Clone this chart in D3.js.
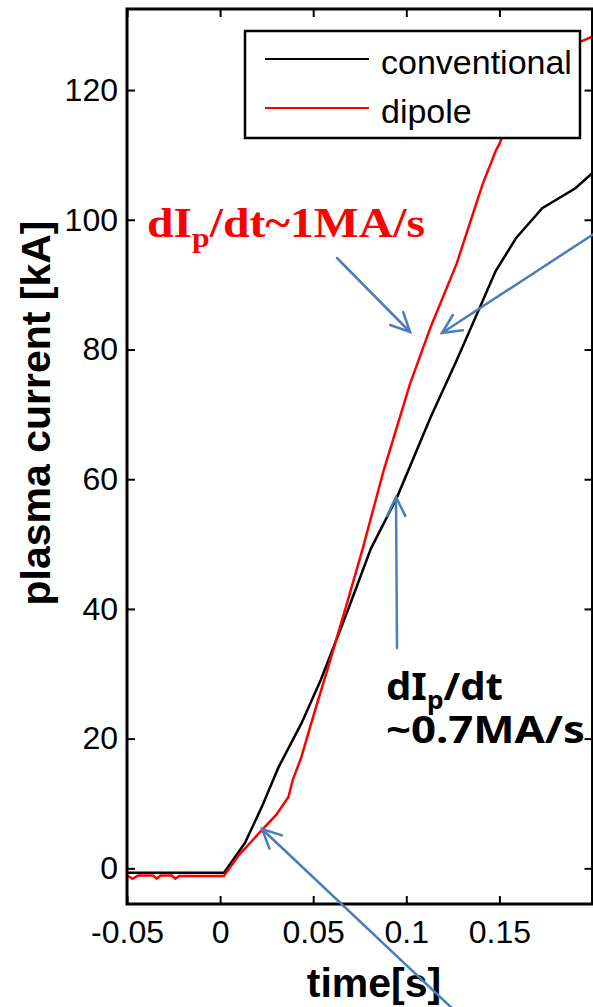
<!DOCTYPE html>
<html>
<head>
<meta charset="utf-8">
<script src="https://cdn.jsdelivr.net/npm/d3@7"></script>
<style>
  html, body { margin: 0; padding: 0; background: #fff; }
  svg { display: block; }
</style>
</head>
<body>
<div id="chart"></div>
<script>
// conventional start-up (black)
const tConv = [-0.05, -0.03, -0.01, 0.002, 0.0133, 0.0223, 0.0314, 0.0436, 0.054, 0.0686,
  0.081, 0.095, 0.113, 0.127, 0.138, 0.148, 0.159, 0.173, 0.191, 0.1995];
const ipConv = [-0.7, -0.7, -0.7, -0.7, 3.9, 9.4, 15.6, 22.3, 29, 39.8,
  49.3, 57.2, 69.5, 78.3, 85.5, 92.1, 97.2, 101.8, 104.9, 107.1];

// dipole start-up (red)
const tDip = [-0.05, -0.047, -0.044, -0.036, -0.034, -0.032, -0.026, -0.024, -0.022, 0.002,
  0.010, 0.0234, 0.030, 0.0367, 0.039, 0.0436, 0.0505, 0.058, 0.0686, 0.0766, 0.0878,
  0.102, 0.113, 0.127, 0.141, 0.148, 0.15, 0.155, 0.16, 0.165, 0.17,
  0.175, 0.18, 0.187, 0.194, 0.1995];
const ipDip = [-1.1, -1.6, -1.1, -1.1, -1.6, -1.1, -1.1, -1.6, -1.2, -1.2,
  2.0, 6.2, 8.2, 11, 13.6, 17.1, 23.9, 31, 41.3, 49.3, 61.3,
  74.7, 83.4, 93.2, 105.5, 110.6, 111.7, 115.3, 118.5, 121.2, 123.3,
  124.9, 126, 126.9, 127.5, 128.2];

const xTicks = [-0.05, 0, 0.05, 0.1, 0.15];
const xTickLabels = ["-0.05", "0", "0.05", "0.1", "0.15"];
const yTicks = [0, 20, 40, 60, 80, 100, 120];

const seriesNames = ["conventional", "dipole"];
const seriesColors = ["#000000", "#ff0000"];

const W = 593, H = 1007;
const svg = d3.select("#chart").append("svg")
  .attr("width", W)
  .attr("height", H);

svg.append("rect").attr("width", W).attr("height", H).attr("fill", "#fff");

const plotL = 127, plotR = 592.5, plotT = 9, plotB = 904;

const x = d3.scaleLinear().domain([-0.05, 0.2]).range([plotL, plotR]);
const y = d3.scaleLinear().domain([-5.5, 132.5]).range([plotB, plotT]);

const tickFont = "'Liberation Sans', Arial, sans-serif";

// axes, MATLAB style: inward ticks on all four sides
const gx = svg.append("g")
  .attr("transform", `translate(0,${plotB})`)
  .call(d3.axisBottom(x).tickValues(xTicks).tickFormat((d, i) => xTickLabels[i])
    .tickSizeInner(-8).tickSizeOuter(0).tickPadding(16));
const gy = svg.append("g")
  .attr("transform", `translate(${plotL},0)`)
  .call(d3.axisLeft(y).tickValues(yTicks).tickSizeInner(-8).tickSizeOuter(0).tickPadding(9));
const gt = svg.append("g")
  .attr("transform", `translate(0,${plotT})`)
  .call(d3.axisTop(x).tickValues(xTicks).tickFormat("").tickSizeInner(-8).tickSizeOuter(0));
const gr = svg.append("g")
  .attr("transform", `translate(${plotR},0)`)
  .call(d3.axisRight(y).tickValues(yTicks).tickFormat("").tickSizeInner(-8).tickSizeOuter(0));

[gx, gy, gt, gr].forEach(g => {
  g.select(".domain").remove();
  g.selectAll(".tick line").attr("stroke", "#000").attr("stroke-width", 2);
  g.selectAll("text")
    .attr("fill", "#000")
    .style("font-family", tickFont)
    .style("font-size", "32px");
});

// curves
const line = d3.line()
  .x(d => x(d[0]))
  .y(d => y(d[1]));

const plot = svg.append("g");
plot.append("path")
  .datum(tConv.map((t, i) => [t, ipConv[i]]))
  .attr("d", line)
  .attr("fill", "none")
  .attr("stroke", seriesColors[0])
  .attr("stroke-width", 2.5);
plot.append("path")
  .datum(tDip.map((t, i) => [t, ipDip[i]]))
  .attr("d", line)
  .attr("fill", "none")
  .attr("stroke", seriesColors[1])
  .attr("stroke-width", 2.5);

// plot box
svg.append("rect")
  .attr("x", plotL).attr("y", plotT)
  .attr("width", plotR - plotL).attr("height", plotB - plotT)
  .attr("fill", "none")
  .attr("stroke", "#000")
  .attr("stroke-width", 3);

// legend
const legend = svg.append("g");
legend.append("rect")
  .attr("x", 245).attr("y", 31)
  .attr("width", 335).attr("height", 107)
  .attr("fill", "#fff")
  .attr("stroke", "#000")
  .attr("stroke-width", 2.5);
seriesNames.forEach((name, i) => {
  const ly = 59 + i * 49;
  legend.append("line")
    .attr("x1", 265).attr("x2", 369)
    .attr("y1", ly).attr("y2", ly)
    .attr("stroke", seriesColors[i])
    .attr("stroke-width", 2.2);
  legend.append("text")
    .attr("x", 381).attr("y", ly + 15)
    .style("font-family", tickFont)
    .style("font-size", "34px")
    .text(name);
});

// axis labels
svg.append("text")
  .attr("transform", "translate(50,413) rotate(-90)")
  .attr("text-anchor", "middle")
  .style("font-family", tickFont)
  .style("font-size", "41px")
  .style("font-weight", "bold")
  .text("plasma current [kA]");

svg.append("text")
  .attr("x", 374).attr("y", 997)
  .attr("text-anchor", "middle")
  .style("font-family", tickFont)
  .style("font-size", "41px")
  .style("font-weight", "bold")
  .text("time[s]");

// annotations
const red = svg.append("text")
  .attr("x", 147).attr("y", 237)
  .attr("fill", "#ff0000")
  .attr("textLength", 278)
  .attr("lengthAdjust", "spacingAndGlyphs")
  .style("font-family", "'Liberation Serif', 'Times New Roman', serif")
  .style("font-size", "42px")
  .style("font-weight", "bold");
red.append("tspan").text("dI");
red.append("tspan").attr("dy", 10).style("font-size", "28px").text("p");
red.append("tspan").attr("dy", -10).text("/dt~1MA/s");

const annFont = "'Noto Sans', 'DejaVu Sans', sans-serif";
const blk = svg.append("text")
  .attr("x", 386).attr("y", 700)
  .attr("textLength", 117)
  .attr("lengthAdjust", "spacingAndGlyphs")
  .style("font-family", annFont)
  .style("font-size", "38px")
  .style("font-weight", "bold");
blk.append("tspan").text("dI");
blk.append("tspan").attr("dy", 9).style("font-size", "25px").text("p");
blk.append("tspan").attr("dy", -9).text("/dt");

svg.append("text")
  .attr("x", 386).attr("y", 743)
  .attr("textLength", 199)
  .attr("lengthAdjust", "spacingAndGlyphs")
  .style("font-family", annFont)
  .style("font-size", "37px")
  .style("font-weight", "bold")
  .text("~0.7MA/s");

// arrows (tail -> head), open heads
const arrows = [
  [[337, 258], [410, 332]],
  [[612, 222], [442, 333]],
  [[397, 648], [396, 497]],
  [[456, 1012], [262, 829]]
];
const arrowColor = "#4a7ebb";
const ag = svg.append("g")
  .attr("stroke", arrowColor)
  .attr("stroke-width", 2.5)
  .attr("fill", "none")
  .attr("stroke-linecap", "round");
arrows.forEach(([a, b]) => {
  ag.append("line")
    .attr("x1", a[0]).attr("y1", a[1])
    .attr("x2", b[0]).attr("y2", b[1]);
  const ang = Math.atan2(a[1] - b[1], a[0] - b[0]);
  const len = 21, spread = 0.45;
  const p1 = [b[0] + len * Math.cos(ang + spread), b[1] + len * Math.sin(ang + spread)];
  const p2 = [b[0] + len * Math.cos(ang - spread), b[1] + len * Math.sin(ang - spread)];
  ag.append("path")
    .attr("d", `M${p1[0]},${p1[1]}L${b[0]},${b[1]}L${p2[0]},${p2[1]}`);
});
</script>
</body>
</html>
